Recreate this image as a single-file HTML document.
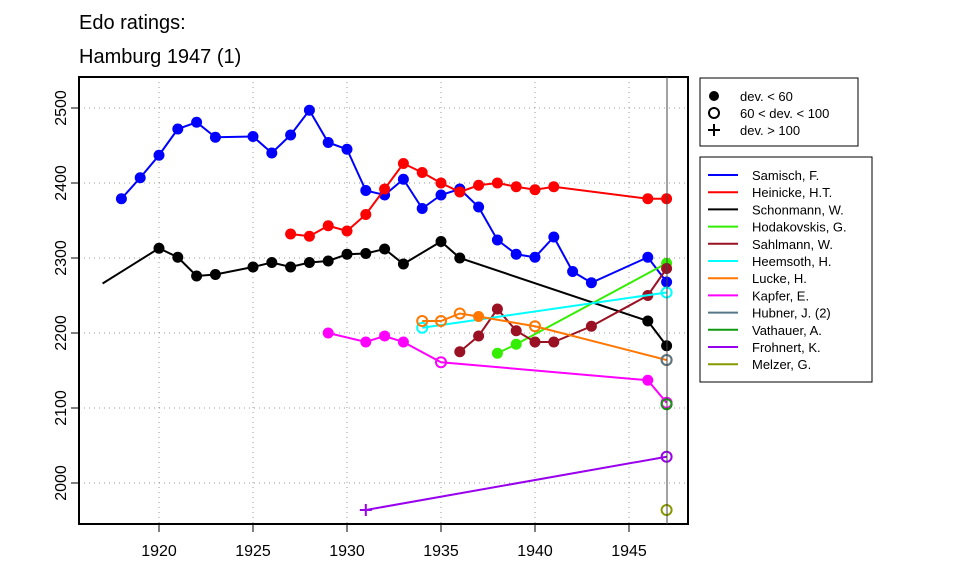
<!DOCTYPE html>
<html><head><meta charset="utf-8"><style>
body{margin:0;background:#fff}
svg text{font-family:"Liberation Sans",sans-serif}
</style></head><body>
<svg id="c" width="960" height="576" xmlns="http://www.w3.org/2000/svg">
<text x="79" y="29" font-size="20">Edo ratings:</text>
<text x="79" y="63" font-size="20">Hamburg 1947 (1)</text>
<g id="grid"></g><g id="axes"></g><g id="series"></g>
<rect x="79" y="77" width="609" height="447" fill="none" stroke="#000" stroke-width="2"/>
<line x1="667" y1="77" x2="667" y2="524" stroke="#444" stroke-width="1"/>
<g id="legend1">
<rect x="700" y="78" width="158" height="68" fill="#fff" stroke="#000"/>
<circle cx="714" cy="96" r="5" fill="#000"/><text x="740" y="101" font-size="13">dev. &lt; 60</text>
<circle cx="714" cy="113" r="5" fill="none" stroke="#000" stroke-width="2"/><text x="740" y="118" font-size="13">60 &lt; dev. &lt; 100</text>
<path d="M708 130h12M714 124v12" stroke="#000" stroke-width="2"/><text x="740" y="135" font-size="13">dev. &gt; 100</text>
</g>
<g id="legend2"><rect x="700" y="157" width="172" height="225" fill="#fff" stroke="#000"/></g>
</svg>
<script>
const years=[1920,1925,1930,1935,1940,1945];
const ratingTicks=[2000,2100,2200,2300,2400,2500];
const names=["Samisch, F.","Heinicke, H.T.","Schonmann, W.","Hodakovskis, G.","Sahlmann, W.","Heemsoth, H.","Lucke, H.","Kapfer, E.","Hubner, J. (2)","Vathauer, A.","Frohnert, K.","Melzer, G."];
const colors=["#0000ff","#ff0000","#000000","#33ee00","#991122","#00ffff","#ff7700","#ff00ff","#557788","#119911","#9900ee","#889900"];
// points: [year, rating, marker] marker: 0 filled,1 open,2 plus,3 none
const samisch=[[1918,2379,0],[1919,2407,0],[1920,2437,0],[1921,2472,0],[1922,2481,0],[1923,2461,0],[1925,2462,0],[1926,2440,0],[1927,2464,0],[1928,2497,0],[1929,2454,0],[1930,2445,0],[1931,2390,0],[1932,2384,0],[1933,2405,0],[1934,2366,0],[1935,2384,0],[1936,2392,0],[1937,2368,0],[1938,2324,0],[1939,2305,0],[1940,2301,0],[1941,2328,0],[1942,2282,0],[1943,2267,0],[1946,2301,0],[1947,2268,0]];
const heinicke=[[1927,2332,0],[1928,2329,0],[1929,2343,0],[1930,2336,0],[1931,2358,0],[1932,2392,0],[1933,2426,0],[1934,2414,0],[1935,2400,0],[1936,2388,0],[1937,2397,0],[1938,2400,0],[1939,2395,0],[1940,2391,0],[1941,2395,0],[1946,2379,0],[1947,2379,0]];
const schonmann=[[1917,2266,3],[1920,2313,0],[1921,2301,0],[1922,2276,0],[1923,2278,0],[1925,2288,0],[1926,2294,0],[1927,2288,0],[1928,2294,0],[1929,2296,0],[1930,2305,0],[1931,2306,0],[1932,2312,0],[1933,2292,0],[1935,2322,0],[1936,2300,0],[1946,2216,0],[1947,2183,0]];
const hodakovskis=[[1938,2173,0],[1939,2185,0],[1947,2293,0]];
const sahlmann=[[1936,2175,0],[1937,2196,0],[1938,2232,0],[1939,2203,0],[1940,2188,0],[1941,2188,0],[1943,2209,0],[1946,2250,0],[1947,2286,0]];
const heemsoth=[[1934,2207,1],[1947,2254,1]];
const lucke=[[1934,2216,1],[1935,2216,1],[1936,2226,1],[1937,2222,0],[1940,2209,1],[1947,2164,1]];
const kapfer=[[1929,2200,0],[1931,2188,0],[1932,2196,0],[1933,2188,0],[1935,2161,1],[1946,2137,0],[1947,2107,1]];
const hubner=[[1947,2164,1]];
const vathauer=[[1947,2105,1]];
const frohnert=[[1931,1964,2],[1947,2035,1]];
const melzer=[[1947,1964,1]];
const allSeries=[samisch,heinicke,schonmann,hodakovskis,sahlmann,heemsoth,lucke,kapfer,hubner,vathauer,frohnert,melzer];
const X=y=>441+(y-1935)*18.8;
const Y=r=>258-(r-2300)*0.75;
const NS="http://www.w3.org/2000/svg";
function mk(t,a,p){const e=document.createElementNS(NS,t);for(const k in a)e.setAttribute(k,a[k]);p.appendChild(e);return e;}
const grid=document.getElementById('grid'),axes=document.getElementById('axes'),ser=document.getElementById('series');
years.forEach(y=>{
 const g=mk('line',{x1:X(y),x2:X(y),y1:77,y2:524,stroke:'#999','stroke-dasharray':'1 4'},grid);
 
 
 const t=mk('line',{x1:X(y),x2:X(y),y1:524,y2:532,stroke:'#000'},axes);
 
 
 const l=mk('text',{x:X(y),y:556,'font-size':16,'text-anchor':'middle'},axes);l.textContent=y;
 
 
});
ratingTicks.forEach(r=>{
 const g=mk('line',{x1:79,x2:688,y1:Y(r),y2:Y(r),stroke:'#999','stroke-dasharray':'1 4'},grid);
 
 
 const t=mk('line',{x1:71,x2:79,y1:Y(r),y2:Y(r),stroke:'#000'},axes);
 
 
 const l=mk('text',{x:0,y:0,'font-size':16,'text-anchor':'middle',transform:`translate(66,${Y(r)}) rotate(-90)`},axes);l.textContent=r;
 
 
});
allSeries.forEach((s,i)=>{
 const c=colors[i];
 const g=mk('g',{},ser);
 
 
 if(s.length>1){const pl=mk('polyline',{points:s.map(p=>X(p[0])+','+Y(p[1])).join(' '),fill:'none',stroke:c,'stroke-width':2},g);
  
  }
 s.forEach(p=>{
  let m;
  if(p[2]===0)m=mk('circle',{cx:X(p[0]),cy:Y(p[1]),r:5.5,fill:c},g);
  else if(p[2]===1)m=mk('circle',{cx:X(p[0]),cy:Y(p[1]),r:5,fill:'none',stroke:c,'stroke-width':2},g);
  else if(p[2]===2)m=mk('path',{d:`M${X(p[0])-6} ${Y(p[1])}h12M${X(p[0])} ${Y(p[1])-6}v12`,stroke:c,'stroke-width':2},g);
  if(m){
  }
 });
});
const lg=document.getElementById('legend2');
names.forEach((n,i)=>{
 const yy=175+i*17.2;
 const e=mk('g',{},lg);
 
 
 mk('line',{x1:708,x2:738,y1:yy,y2:yy,stroke:colors[i],'stroke-width':2},e);
 const t=mk('text',{x:752,y:yy+5,'font-size':13},e);t.textContent=n;
});
</script>
</body></html>
